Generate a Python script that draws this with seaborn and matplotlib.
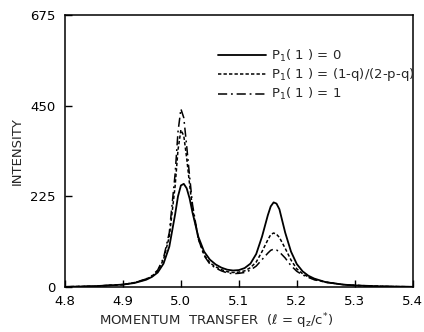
import matplotlib
matplotlib.use("Agg")
import matplotlib.pyplot as plt
import seaborn as sns
import pandas as pd

# Momentum transfer l = q_z / c*
l_values = [4.80, 4.85, 4.90, 4.92, 4.94, 4.95, 4.96, 4.97, 4.98, 4.99,
            4.995, 5.00, 5.005, 5.01, 5.015, 5.02, 5.03, 5.04, 5.05, 5.06,
            5.07, 5.08, 5.09, 5.10, 5.11, 5.12, 5.13, 5.14, 5.15, 5.155,
            5.16, 5.165, 5.17, 5.18, 5.19, 5.20, 5.21, 5.22, 5.23, 5.25,
            5.28, 5.30, 5.35, 5.40]

# Scattered intensity for the three choices of P1(1)
intensity_p0 = [0.5, 2, 6, 10, 18, 25, 36, 58, 100, 180,
                225, 252, 256, 245, 220, 185, 125, 88, 68, 56,
                48, 43, 41, 42, 47, 58, 82, 125, 178, 200,
                210, 207, 193, 135, 88, 57, 39, 28, 21, 12,
                6, 4, 1.5, 0.5]
intensity_pq = [0.5, 2, 6, 11, 19, 27, 40, 68, 125, 250,
                340, 390, 375, 320, 255, 195, 120, 80, 60, 50,
                43, 38, 36, 37, 40, 48, 62, 88, 117, 130,
                134, 131, 123, 96, 67, 45, 33, 25, 19, 12,
                6, 4, 1.5, 0.5]
intensity_p1 = [0.5, 2, 6, 11, 20, 28, 42, 72, 135, 280,
                385, 442, 420, 350, 275, 205, 120, 78, 57, 47,
                40, 35, 33, 34, 36, 42, 52, 68, 84, 91,
                94, 92, 87, 72, 53, 39, 30, 24, 18, 12,
                6, 4, 1.5, 0.5]

labels = [r"P$_1$( 1 ) = 0",
          r"P$_1$( 1 ) = (1-q)/(2-p-q)",
          r"P$_1$( 1 ) = 1"]
x_ticks = [4.8, 4.9, 5.0, 5.1, 5.2, 5.3, 5.4]
y_ticks = [0, 225, 450, 675]

sns.set_style("ticks")
plt.rcParams["font.family"] = ["DejaVu Sans"]
plt.rcParams["mathtext.fontset"] = "dejavusans"
plt.rcParams["mathtext.default"] = "regular"

frames = []
for lab, vals in zip(labels, [intensity_p0, intensity_pq, intensity_p1]):
    frames.append(pd.DataFrame({"l": l_values, "I": vals, "case": lab}))
df = pd.concat(frames, ignore_index=True)

fig = plt.figure(figsize=(4.24, 3.32), dpi=100)
ax = fig.add_axes([0.1533, 0.1355, 0.82, 0.8193])

styles = {
    labels[0]: dict(linestyle="-", linewidth=1.3),
    labels[1]: dict(linestyle=(0, (2.2, 1.4)), linewidth=1.1),
    labels[2]: dict(linestyle=(0, (6, 2.5, 1.2, 2.5)), linewidth=1.1),
}
for lab in labels:
    sub = df[df["case"] == lab]
    sns.lineplot(data=sub, x="l", y="I", ax=ax, color="black", label=lab,
                 **styles[lab])

ax.set_xlim(4.8, 5.4)
ax.set_ylim(0, 675)
ax.set_xticks(x_ticks)
ax.set_xticklabels([f"{t:.1f}" for t in x_ticks])
ax.set_yticks(y_ticks)
ax.set_yticklabels([str(t) for t in y_ticks])
ax.tick_params(direction="in", length=5, width=1, labelsize=9.5,
               color="black", labelcolor="black")
ax.tick_params(axis="x", pad=6)
ax.tick_params(axis="y", pad=7)
for s in ax.spines.values():
    s.set_linewidth(1.1)
    s.set_color("black")

ax.set_xlabel(r"MOMENTUM  TRANSFER  ($\ell$ = q$_z$/c$^{*}$)", fontsize=9.5)
ax.xaxis.set_label_coords(0.434, -0.09)
ax.set_ylabel("INTENSITY", fontsize=9.5)
ax.yaxis.set_label_coords(-0.118, 0.5)

leg = ax.legend(loc="upper left", bbox_to_anchor=(0.425, 0.90), frameon=False,
                fontsize=9.5, handlelength=3.6, handletextpad=0.45,
                labelspacing=0.22, borderaxespad=0)

fig.savefig("out.png", dpi=100)
